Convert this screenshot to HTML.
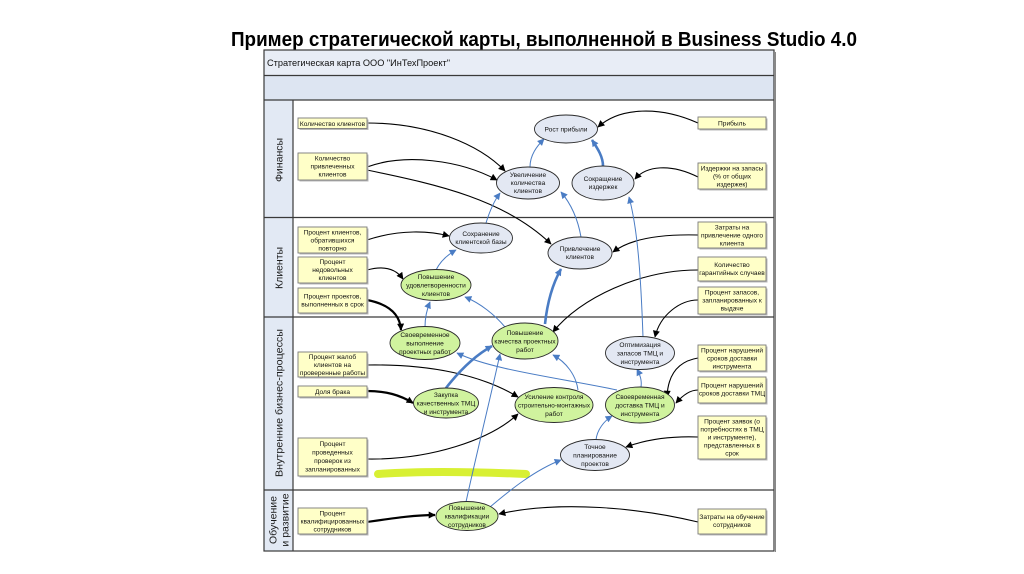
<!DOCTYPE html>
<html><head><meta charset="utf-8"><style>
html,body{margin:0;padding:0;background:#fff;}
svg{display:block;}
text{font-family:"Liberation Sans",sans-serif;fill:#111;}
.t{font-size:6.6px;text-anchor:middle;}
.r{fill:#ffffc8;stroke:#7a7a7a;stroke-width:0.9;}
.sh{fill:#b8b8b8;}
.eg{fill:#d0f39e;stroke:#2a2a2a;stroke-width:0.9;}
.eb{fill:#e3e8f3;stroke:#2a2a2a;stroke-width:0.9;}
.k{fill:none;stroke:#000;stroke-width:1.1;}
.kt{fill:none;stroke:#000;stroke-width:2.2;}
.b{fill:none;stroke:#4a7cc4;stroke-width:1;}
.bt{fill:none;stroke:#4a7cc4;stroke-width:2.6;}
.lane{font-size:10.5px;text-anchor:middle;fill:#1a1a1a;}
</style></head><body>
<svg width="1024" height="574" viewBox="0 0 1024 574" xmlns="http://www.w3.org/2000/svg">
<defs>
<marker id="ak" viewBox="0 0 10 10" refX="9" refY="5" markerWidth="8" markerHeight="7" markerUnits="userSpaceOnUse" orient="auto"><path d="M0,0 L10,5 L0,10 z" fill="#000"/></marker>
<marker id="ab" viewBox="0 0 10 10" refX="9" refY="5" markerWidth="8" markerHeight="7" markerUnits="userSpaceOnUse" orient="auto"><path d="M0,0 L10,5 L0,10 z" fill="#4a7cc4"/></marker>
</defs>
<rect width="1024" height="574" fill="#fff"/>
<text x="231" y="46" font-size="20" font-weight="bold" textLength="626" lengthAdjust="spacingAndGlyphs" style="fill:#000">Пример стратегической карты, выполненной в Business Studio 4.0</text>

<!-- frame -->
<rect x="264" y="50" width="510" height="25.5" fill="#e8edf6"/>
<rect x="264" y="75.5" width="510" height="24.5" fill="#dde5f2"/>
<rect x="264" y="100" width="29" height="451" fill="#e2e9f4"/>
<rect x="293" y="100" width="481" height="451" fill="#fff"/>
<g stroke="#3a3a3a" stroke-width="1.2" fill="none">
<rect x="264" y="50" width="510" height="501"/>
<line x1="264" y1="75.5" x2="774" y2="75.5"/>
<line x1="264" y1="100" x2="774" y2="100"/>
<line x1="293" y1="100" x2="293" y2="551"/>
<line x1="264" y1="217.5" x2="774" y2="217.5"/>
<line x1="264" y1="317" x2="774" y2="317"/>
<line x1="264" y1="490" x2="774" y2="490"/>
</g>
<line x1="775.5" y1="52" x2="775.5" y2="552" stroke="#888" stroke-width="1"/>
<text x="267" y="66" font-size="9.2" style="fill:#111">Стратегическая карта ООО "ИнТехПроект"</text>

<!-- lane labels -->
<text class="lane" transform="translate(282.5,160) rotate(-90)">Финансы</text>
<text class="lane" transform="translate(282.5,268) rotate(-90)">Клиенты</text>
<text class="lane" transform="translate(282.5,403) rotate(-90)" textLength="148" lengthAdjust="spacingAndGlyphs">Внутренние бизнес-процессы</text>
<text class="lane" transform="translate(276.5,520) rotate(-90)">Обучение</text>
<text class="lane" transform="translate(288.5,520) rotate(-90)">и развитие</text>

<!-- highlighter -->
<path d="M378,474 C 420,471 480,472 526,474" stroke="#d6ef28" stroke-width="8" stroke-linecap="round" fill="none" opacity="0.95"/>

<!-- black connectors -->
<path class="k" marker-end="url(#ak)" d="M367,123 C 430,123 480,145 505,171"/>
<path class="k" marker-end="url(#ak)" d="M367,167 C 405,153 460,160 497,180"/>
<path class="k" marker-end="url(#ak)" d="M367,170 C 440,185 505,200 551,244"/>
<path class="k" marker-end="url(#ak)" d="M698,123 C 660,106 620,107 598,127"/>
<path class="k" marker-end="url(#ak)" d="M698,177 C 670,163 646,166 635,179"/>
<path class="k" marker-end="url(#ak)" d="M367,240 C 400,229 430,231 449,236"/>
<path class="k" marker-end="url(#ak)" d="M367,270 C 385,265 396,269 403,279"/>
<path class="kt" marker-end="url(#ak)" d="M367,300 C 388,304 400,314 401,330"/>
<path class="k" marker-end="url(#ak)" d="M698,235 C 660,234 630,239 613,252"/>
<path class="k" marker-end="url(#ak)" d="M698,270 C 640,270 580,298 553,332"/>
<path class="k" marker-end="url(#ak)" d="M698,300 C 680,300 660,315 655,337"/>
<path class="k" marker-end="url(#ak)" d="M698,358 C 680,361 668,372 667,397"/>
<path class="k" marker-end="url(#ak)" d="M698,390 C 690,390 683,395 676,403"/>
<path class="k" marker-end="url(#ak)" d="M698,437 C 670,436 645,440 626,447"/>
<path class="k" marker-end="url(#ak)" d="M367,365 C 430,364 482,375 518,397"/>
<path class="kt" marker-end="url(#ak)" d="M367,391 C 386,391 400,395 413,403"/>
<path class="k" marker-end="url(#ak)" d="M367,459 C 430,460 490,440 518,414"/>
<path class="kt" marker-end="url(#ak)" d="M367,522 C 395,518 415,515 435,515"/>
<path class="k" marker-end="url(#ak)" d="M698,522 C 640,508 560,500 499,514"/>

<!-- blue connectors -->
<path class="b" marker-end="url(#ab)" d="M530,167 C 530,155 537,146 544,139"/>
<path class="bt" marker-end="url(#ab)" d="M603,166 C 603,157 598,149 592,140"/>
<path class="b" marker-end="url(#ab)" d="M486,223 C 490,210 494,201 500,193"/>
<path class="b" marker-end="url(#ab)" d="M581,237 C 578,220 572,205 561,192"/>
<path class="b" marker-end="url(#ab)" d="M643,337 C 641,280 638,230 629,197"/>
<path class="b" marker-end="url(#ab)" d="M436,270 C 440,262 447,255 456,250"/>
<path class="b" marker-end="url(#ab)" d="M425,327 C 425,318 427,309 430,302"/>
<path class="b" marker-end="url(#ab)" d="M505,327 C 495,315 480,303 465,297"/>
<path class="bt" marker-end="url(#ab)" d="M545,324 C 547,305 552,285 561,269"/>
<path class="bt" marker-end="url(#ab)" d="M446,388 C 460,370 476,355 492,346"/>
<path class="b" marker-end="url(#ab)" d="M578,390 C 576,375 566,362 553,355"/>
<path class="b" marker-end="url(#ab)" d="M617,390 C 560,378 492,370 457,353"/>
<path class="b" marker-end="url(#ab)" d="M641,387 C 642,380 640,375 637,369"/>
<path class="b" marker-end="url(#ab)" d="M596,440 C 597,430 604,421 612,416"/>
<path class="b" marker-end="url(#ab)" d="M466,502 C 475,460 490,400 500,354"/>
<path class="b" marker-end="url(#ab)" d="M490,507 C 510,490 535,470 561,460"/>

<!-- rect nodes -->
<g>
<rect class="sh" x="299.5" y="119.5" width="69" height="10.5"/><rect class="r" x="298" y="118" width="69" height="10.5"/>
<text class="t" x="332.5" y="125.8">Количество клиентов</text>

<rect class="sh" x="299.5" y="154.5" width="69" height="27"/><rect class="r" x="298" y="153" width="69" height="27"/>
<text class="t" x="332.5" y="160.5">Количество</text><text class="t" x="332.5" y="168.5">привлеченных</text><text class="t" x="332.5" y="176.5">клиентов</text>

<rect class="sh" x="699.5" y="118.5" width="68" height="12"/><rect class="r" x="698" y="117" width="68" height="12"/>
<text class="t" x="732" y="125.5">Прибыль</text>

<rect class="sh" x="699.5" y="164.5" width="68" height="26"/><rect class="r" x="698" y="163" width="68" height="26"/>
<text class="t" x="732" y="170.5">Издержки на запасы</text><text class="t" x="732" y="178.5">(% от общих</text><text class="t" x="732" y="186.5">издержек)</text>

<rect class="sh" x="299.5" y="228.5" width="69" height="26"/><rect class="r" x="298" y="227" width="69" height="26"/>
<text class="t" x="332.5" y="234.5">Процент клиентов,</text><text class="t" x="332.5" y="242.5">обратившихся</text><text class="t" x="332.5" y="250.5">повторно</text>

<rect class="sh" x="299.5" y="258.5" width="69" height="26"/><rect class="r" x="298" y="257" width="69" height="26"/>
<text class="t" x="332.5" y="264">Процент</text><text class="t" x="332.5" y="272">недовольных</text><text class="t" x="332.5" y="280">клиентов</text>

<rect class="sh" x="299.5" y="289.5" width="69" height="25"/><rect class="r" x="298" y="288" width="69" height="25"/>
<text class="t" x="332.5" y="298.5">Процент проектов,</text><text class="t" x="332.5" y="306.5">выполненных в срок</text>

<rect class="sh" x="699.5" y="223.5" width="68" height="26"/><rect class="r" x="698" y="222" width="68" height="26"/>
<text class="t" x="732" y="229.5">Затраты на</text><text class="t" x="732" y="237.5">привлечение одного</text><text class="t" x="732" y="245.5">клиента</text>

<rect class="sh" x="699.5" y="258.5" width="68" height="24"/><rect class="r" x="698" y="257" width="68" height="24"/>
<text class="t" x="732" y="267">Количество</text><text class="t" x="732" y="275">гарантийных случаев</text>

<rect class="sh" x="699.5" y="288.5" width="68" height="27"/><rect class="r" x="698" y="287" width="68" height="27"/>
<text class="t" x="732" y="294.5">Процент запасов,</text><text class="t" x="732" y="302.5">запланированных к</text><text class="t" x="732" y="310.5">выдаче</text>

<rect class="sh" x="299.5" y="353.5" width="69" height="25"/><rect class="r" x="298" y="352" width="69" height="25"/>
<text class="t" x="332.5" y="359">Процент жалоб</text><text class="t" x="332.5" y="367">клиентов на</text><text class="t" x="332.5" y="375">проверенные работы</text>

<rect class="sh" x="299.5" y="387.5" width="69" height="11"/><rect class="r" x="298" y="386" width="69" height="11"/>
<text class="t" x="332.5" y="394">Доля брака</text>

<rect class="sh" x="299.5" y="439.5" width="69" height="38"/><rect class="r" x="298" y="438" width="69" height="38"/>
<text class="t" x="332.5" y="446">Процент</text><text class="t" x="332.5" y="454.5">проведенных</text><text class="t" x="332.5" y="463">проверок из</text><text class="t" x="332.5" y="471.5">запланированных</text>

<rect class="sh" x="699.5" y="346.5" width="68" height="26"/><rect class="r" x="698" y="345" width="68" height="26"/>
<text class="t" x="732" y="352.5">Процент нарушений</text><text class="t" x="732" y="360.5">сроков доставки</text><text class="t" x="732" y="368.5">инструмента</text>

<rect class="sh" x="699.5" y="378.5" width="68" height="26"/><rect class="r" x="698" y="377" width="68" height="26"/>
<text class="t" x="732" y="387.5">Процент нарушений</text><text class="t" x="732" y="395.5">сроков доставки ТМЦ</text>

<rect class="sh" x="699.5" y="417.5" width="68" height="43"/><rect class="r" x="698" y="416" width="68" height="43"/>
<text class="t" x="732" y="423.5">Процент заявок (о</text><text class="t" x="732" y="431.5">потребностях в ТМЦ</text><text class="t" x="732" y="439.5">и инструменте),</text><text class="t" x="732" y="447.5">представленных в</text><text class="t" x="732" y="455.5">срок</text>

<rect class="sh" x="299.5" y="509.5" width="69" height="26"/><rect class="r" x="298" y="508" width="69" height="26"/>
<text class="t" x="332.5" y="515.5">Процент</text><text class="t" x="332.5" y="523.5">квалифицированных</text><text class="t" x="332.5" y="531.5">сотрудников</text>

<rect class="sh" x="699.5" y="510.5" width="68" height="25"/><rect class="r" x="698" y="509" width="68" height="25"/>
<text class="t" x="732" y="519">Затраты на обучение</text><text class="t" x="732" y="527">сотрудников</text>
</g>

<!-- ellipses -->
<g>
<ellipse class="eb" cx="566" cy="129" rx="31.5" ry="14"/>
<text class="t" x="566" y="131.5">Рост прибыли</text>

<ellipse class="eb" cx="528" cy="183" rx="31.5" ry="16"/>
<text class="t" x="528" y="177">Увеличение</text><text class="t" x="528" y="185">количества</text><text class="t" x="528" y="193">клиентов</text>

<ellipse class="eb" cx="603" cy="183" rx="31" ry="17"/>
<text class="t" x="603" y="181">Сокращение</text><text class="t" x="603" y="189">издержек</text>

<ellipse class="eb" cx="481" cy="238" rx="31.5" ry="15"/>
<text class="t" x="481" y="236">Сохранение</text><text class="t" x="481" y="244">клиентской базы</text>

<ellipse class="eb" cx="580" cy="253" rx="32" ry="16"/>
<text class="t" x="580" y="251">Привлечение</text><text class="t" x="580" y="259">клиентов</text>

<ellipse class="eg" cx="436" cy="285" rx="35" ry="15.5"/>
<text class="t" x="436" y="279">Повышение</text><text class="t" x="436" y="287.5">удовлетворенности</text><text class="t" x="436" y="296">клиентов</text>

<ellipse class="eg" cx="425" cy="343" rx="35" ry="16.5"/>
<text class="t" x="425" y="337">Своевременное</text><text class="t" x="425" y="345.5">выполнение</text><text class="t" x="425" y="354">проектных работ</text>

<ellipse class="eg" cx="525" cy="341" rx="33" ry="18"/>
<text class="t" x="525" y="335">Повышение</text><text class="t" x="525" y="343.5">качества проектных</text><text class="t" x="525" y="352">работ</text>

<ellipse class="eb" cx="640" cy="353" rx="34.5" ry="16.5"/>
<text class="t" x="640" y="347">Оптимизация</text><text class="t" x="640" y="355.5">запасов ТМЦ и</text><text class="t" x="640" y="364">инструмента</text>

<ellipse class="eg" cx="446" cy="403" rx="32.5" ry="15"/>
<text class="t" x="446" y="397">Закупка</text><text class="t" x="446" y="405.5">качественных ТМЦ</text><text class="t" x="446" y="414">и инструмента</text>

<ellipse class="eg" cx="554" cy="405" rx="39" ry="17.5"/>
<text class="t" x="554" y="399">Усиление контроля</text><text class="t" x="554" y="407.5" textLength="72" lengthAdjust="spacingAndGlyphs">строительно-монтажных</text><text class="t" x="554" y="416">работ</text>

<ellipse class="eg" cx="640" cy="405" rx="34.5" ry="18"/>
<text class="t" x="640" y="399">Своевременная</text><text class="t" x="640" y="407.5">доставка ТМЦ и</text><text class="t" x="640" y="416">инструмента</text>

<ellipse class="eb" cx="595" cy="455" rx="34.5" ry="15.5"/>
<text class="t" x="595" y="449">Точное</text><text class="t" x="595" y="457.5">планирование</text><text class="t" x="595" y="466">проектов</text>

<ellipse class="eg" cx="467" cy="516" rx="31" ry="14.5"/>
<text class="t" x="467" y="510">Повышение</text><text class="t" x="467" y="518.5">квалификации</text><text class="t" x="467" y="527">сотрудников</text>
</g>
</svg>
</body></html>
